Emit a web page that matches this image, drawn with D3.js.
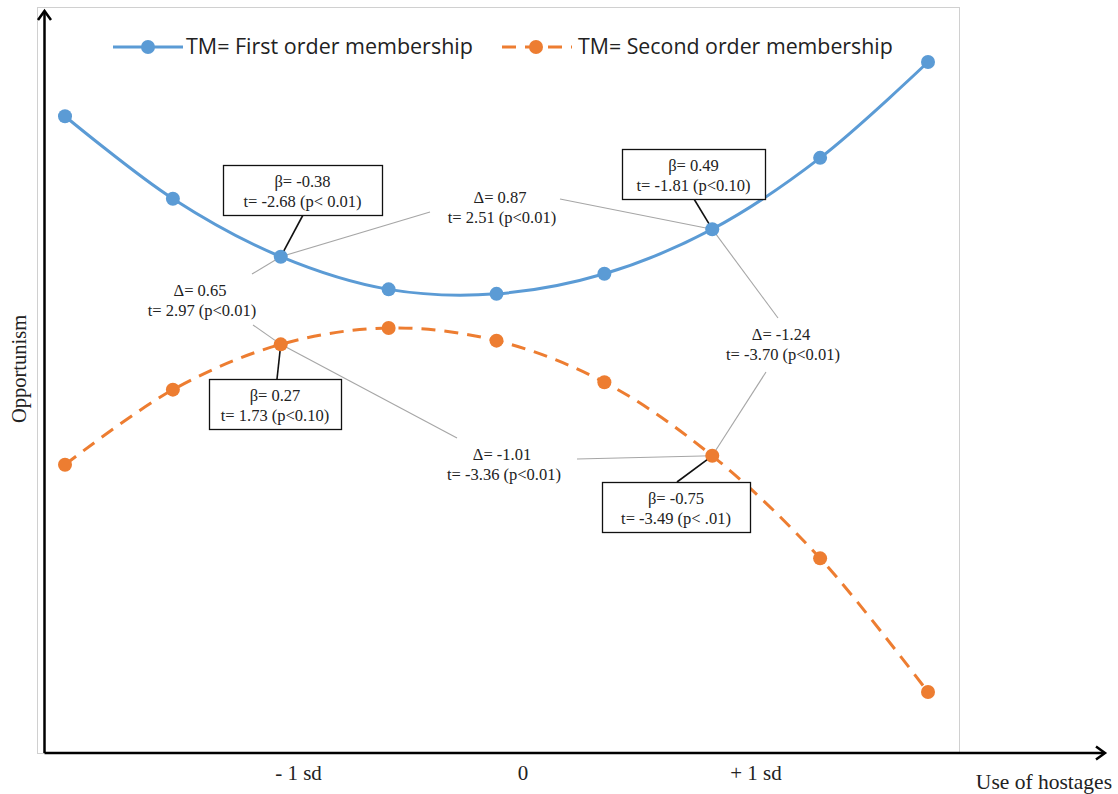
<!DOCTYPE html>
<html><head><meta charset="utf-8">
<script src="https://cdn.jsdelivr.net/npm/d3@7"></script>
<style>body{margin:0;background:#fff}svg{display:block}</style>
</head><body>
<svg id="c" width="1118" height="794"></svg>
<script>
// ---- data ----
const xValues = [-2, -1.5, -1, -0.5, 0, 0.5, 1, 1.5, 2];           // use of hostages (sd units)
const firstOrder = [85.7, 74.6, 66.8, 62.4, 61.8, 64.5, 70.5, 80.1, 93.0];
const secondOrder = [38.8, 48.9, 55.0, 57.2, 55.5, 49.9, 40.0, 26.2, 8.2];
const seriesNames = ["TM= First order membership", "TM= Second order membership"];
const tickValues = [-0.92, 0.12, 1.2];
const tickLabels = ["- 1 sd", "0", "+ 1 sd"];
const xTitle = "Use of hostages";
const yTitle = "Opportunism";
const slopeLines = [   // [series, x, line1, line2]
  [0, -1, "β= -0.38", "t= -2.68 (p< 0.01)"],
  [0,  1, "β= 0.49",  "t= -1.81 (p<0.10)"],
  [1, -1, "β= 0.27",  "t= 1.73 (p<0.10)"],
  [1,  1, "β= -0.75", "t= -3.49 (p< .01)"]
];
const diffLines = [   // [from series, from x, to series, to x, line1, line2]
  [0, -1, 0, 1, "Δ= 0.87",  "t= 2.51 (p<0.01)"],
  [0, -1, 1, -1, "Δ= 0.65",  "t= 2.97 (p<0.01)"],
  [0, 1, 1, 1,  "Δ= -1.24", "t= -3.70 (p<0.01)"],
  [1, -1, 1, 1, "Δ= -1.01", "t= -3.36 (p<0.01)"]
];

// ---- layout ----
const svg = d3.select("#c");
const colors = ["#5B9BD5", "#ED7D31"];
const x = d3.scaleLinear().domain([-2, 2]).range([65, 928]);
const y = d3.scaleLinear().domain([0, 100]).range([753, 10]);
const series = [firstOrder, secondOrder];
const serif = "Liberation Serif";

// chart border
svg.append("rect").attr("x", 37.5).attr("y", 7.5).attr("width", 922).attr("height", 746)
  .attr("fill", "none").attr("stroke", "#d0d0d0").attr("stroke-width", 1);

// axes
const ax = svg.append("g").attr("stroke", "#000").attr("stroke-width", 2.5).attr("fill", "none");
ax.append("line").attr("x1", 44.5).attr("y1", y(0)).attr("x2", 44.5).attr("y2", 11);
ax.append("path").attr("d", `M38,20 L44.5,11 L51,20`).attr("stroke-linejoin", "miter");
ax.append("line").attr("x1", 44.5).attr("y1", 753).attr("x2", 1104).attr("y2", 753);
ax.append("path").attr("d", `M1096,746.5 L1105,753 L1096,759.5`);

// x tick labels
const xAxis = d3.axisBottom(x).tickValues(tickValues).tickSize(0)
  .tickFormat((d, i) => tickLabels[i]);
const gx = svg.append("g").attr("transform", "translate(0,759)").call(xAxis);
gx.select(".domain").remove();
gx.selectAll("text").attr("font-family", serif).attr("font-size", 21)
  .attr("fill", "#222").attr("dy", "0.85em");

svg.append("text").attr("x", 1112).attr("y", 789).attr("text-anchor", "end")
  .attr("font-family", serif).attr("font-size", 21.5).attr("fill", "#222").text(xTitle);
svg.append("text").attr("transform", "translate(26,369) rotate(-90)").attr("text-anchor", "middle")
  .attr("font-family", serif).attr("font-size", 20.5).attr("fill", "#222").text(yTitle);

// annotation lines (gray)
const P = (s, xv) => [x(xv), y(series[s][xValues.indexOf(xv)])];
const diffPos = [[500, 198], [200, 291], [781, 335], [502, 455]];
const diffEnds = [
  [[430, 212], [560, 199]],
  [[252, 274], [253, 325]],
  [[778, 318], [766, 372]],
  [[457, 438], [577, 459]]
];
const ann = svg.append("g");
diffLines.forEach((d, i) => {
  const a = P(d[0], d[1]), b = P(d[2], d[3]);
  ann.append("line").attr("x1", a[0]).attr("y1", a[1]).attr("x2", diffEnds[i][0][0]).attr("y2", diffEnds[i][0][1])
    .attr("stroke", "#a6a6a6").attr("stroke-width", 1.1);
  ann.append("line").attr("x1", diffEnds[i][1][0]).attr("y1", diffEnds[i][1][1]).attr("x2", b[0]).attr("y2", b[1])
    .attr("stroke", "#a6a6a6").attr("stroke-width", 1.1);
  const t = ann.append("text").attr("text-anchor", "middle").attr("font-family", serif)
    .attr("font-size", 16.5).attr("fill", "#222");
  t.append("tspan").attr("x", diffPos[i][0]).attr("y", diffPos[i][1] + 5).text(d[4]);
  t.append("tspan").attr("x", diffPos[i][0] + 2).attr("y", diffPos[i][1] + 25).text(d[5]);
});

// lines
const line = d3.line().x((d, i) => x(xValues[i])).y(d => y(d)).curve(d3.curveCatmullRom.alpha(0.5));
series.forEach((s, k) => {
  svg.append("path").datum(s).attr("d", line).attr("fill", "none")
    .attr("stroke", colors[k]).attr("stroke-width", 3)
    .attr("stroke-dasharray", k === 1 ? "14,9" : null);
});

// slope boxes connectors (black)
const boxes = [[223, 165, 159, 50, 303], [622, 149, 143, 50, 694], [209, 379, 132, 50, 277], [602, 482, 148, 50, 677]];
slopeLines.forEach((d, i) => {
  const p = P(d[0], d[1]); const b = boxes[i];
  const ay = p[1] > b[1] + b[3] ? b[1] + b[3] : b[1];
  svg.append("line").attr("x1", b[4]).attr("y1", ay).attr("x2", p[0]).attr("y2", p[1])
    .attr("stroke", "#111").attr("stroke-width", 1.6);
});

// markers
series.forEach((s, k) => {
  svg.append("g").selectAll("circle").data(s).join("circle")
    .attr("cx", (d, i) => x(xValues[i])).attr("cy", d => y(d)).attr("r", 7).attr("fill", colors[k]);
});

// boxes
slopeLines.forEach((d, i) => {
  const b = boxes[i];
  svg.append("rect").attr("x", b[0] + 0.5).attr("y", b[1] + 0.5).attr("width", b[2]).attr("height", b[3])
    .attr("fill", "#fff").attr("stroke", "#111").attr("stroke-width", 1.3);
  const t = svg.append("text").attr("text-anchor", "middle").attr("font-family", serif)
    .attr("font-size", 16.5).attr("fill", "#222");
  t.append("tspan").attr("x", b[0] + b[2] / 2).attr("y", b[1] + 22).text(d[2]);
  t.append("tspan").attr("x", b[0] + b[2] / 2).attr("y", b[1] + 42).text(d[3]);
});

// legend
const leg = [[113, 183, 186, 473], [500, 572, 578, 893]];
seriesNames.forEach((n, k) => {
  const L = leg[k], g = svg.append("g");
  g.append("line").attr("x1", L[0]).attr("x2", L[1]).attr("y1", 47).attr("y2", 47)
    .attr("stroke", colors[k]).attr("stroke-width", 3).attr("stroke-dasharray", k === 1 ? "14,9" : null)
    .attr("stroke-dashoffset", k === 1 ? -2 : 0);
  g.append("circle").attr("cx", (L[0] + L[1]) / 2).attr("cy", 47).attr("r", 7).attr("fill", colors[k]);
  const t = g.append("text").attr("x", L[2]).attr("y", 54).attr("font-family", "Open Sans")
    .attr("font-size", 20).attr("fill", "#222").text(n);
  const w = t.node().getComputedTextLength();
  t.attr("font-size", 20 * (L[3] - L[2]) / w);
});
</script>
</body></html>
